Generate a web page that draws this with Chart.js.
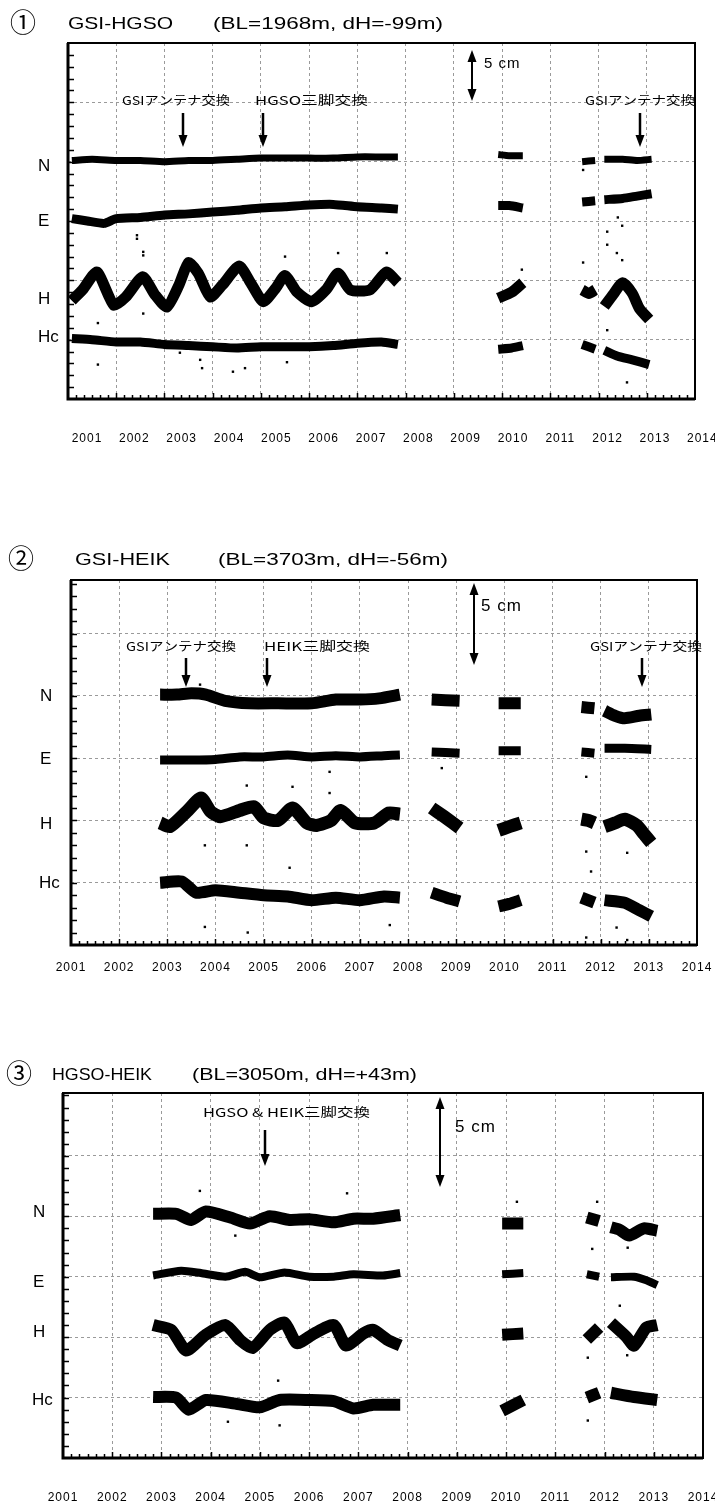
<!DOCTYPE html>
<html>
<head>
<meta charset="utf-8">
<script src="https://cdn.jsdelivr.net/npm/chart.js@4.4.0/dist/chart.umd.min.js"></script>
<style>
  body { margin: 0; background: #fff; width: 715px; height: 1508px; position: relative; overflow: hidden; }
  canvas { position: absolute; left: 0; }
</style>
</head>
<body>
<canvas id="c1" width="715" height="480" style="top:0px"></canvas>
<canvas id="c2" width="715" height="530" style="top:480px"></canvas>
<canvas id="c3" width="715" height="498" style="top:1010px"></canvas>
<script>
// x axis: years, y axis: cm (offset per component, 5 cm per grid line)
const years = [2001, 2002, 2003, 2004, 2005, 2006, 2007, 2008, 2009, 2010, 2011, 2012, 2013, 2014];
const components = ['N', 'E', 'H', 'Hc'];

// ① GSI-HGSO  [year, cm], null = data gap
const p1N = [[2001.08,20.1],[2001.5,20.2],[2002,20.1],[2002.5,20.1],[2003,20.0],[2003.5,20.1],[2004,20.1],[2004.5,20.2],[2005,20.3],[2005.5,20.3],[2006,20.3],[2006.5,20.3],[2007,20.4],[2007.5,20.4],[2007.84,20.4],null,
  [2009.92,20.6],[2010.15,20.5],[2010.43,20.5],null,[2011.66,20.0],[2011.93,20.1],null,[2012.12,20.2],[2012.5,20.2],[2012.8,20.1],[2013.1,20.2]];
const p1E = [[2001.08,15.2],[2001.4,15.0],[2001.75,14.8],[2002,15.2],[2002.5,15.3],[2003,15.5],[2003.5,15.6],[2004,15.75],[2004.5,15.9],[2005,16.1],[2005.5,16.2],[2006,16.35],[2006.5,16.4],[2007,16.2],[2007.5,16.1],[2007.84,16.0],null,
  [2009.92,16.3],[2010.15,16.3],[2010.43,16.1],null,[2011.66,16.6],[2011.93,16.7],null,[2012.12,16.8],[2012.5,16.9],[2012.8,17.1],[2013.1,17.3]];
const p1H = [[2001.08,8.3],[2001.3,9.2],[2001.6,10.7],[2001.95,7.9],[2002.2,8.6],[2002.55,10.3],[2002.8,8.8],[2003.05,7.75],[2003.3,9.6],[2003.5,11.5],[2003.7,10.6],[2003.95,8.6],[2004.2,9.6],[2004.55,11.2],[2004.8,9.7],[2005.05,8.2],[2005.3,9.3],[2005.5,10.4],[2005.75,9.0],[2006.05,8.2],[2006.35,9.2],[2006.6,10.6],[2006.85,9.2],[2007.26,9.2],[2007.6,10.7],[2007.84,9.8],null,
  [2009.92,8.5],[2010.2,9.0],[2010.43,9.8],null,[2011.66,9.2],[2011.8,8.9],[2011.93,9.2],null,[2012.12,7.8],[2012.3,8.8],[2012.5,9.8],[2012.7,8.9],[2012.85,7.6],[2013.05,6.7]];
const p1Hc = [[2001.08,5.1],[2001.5,5.0],[2002,4.8],[2002.5,4.8],[2003,4.6],[2003.5,4.5],[2004,4.4],[2004.5,4.3],[2005,4.4],[2005.5,4.4],[2006,4.4],[2006.5,4.5],[2007,4.7],[2007.5,4.8],[2007.84,4.6],null,
  [2009.92,4.2],[2010.2,4.3],[2010.43,4.5],null,[2011.66,4.6],[2011.93,4.2],null,[2012.12,4.1],[2012.4,3.6],[2012.7,3.3],[2013.05,2.9]];
const p1Out = [[2002.56,12.4],[2002.56,12.1],[2002.43,13.8],[2002.43,13.5],[2001.62,6.4],[2001.62,2.9],[2002.56,7.2],[2003.78,2.6],[2004.42,2.3],[2004.67,2.6],[2005.54,3.1],[2005.5,12.0],[2006.6,12.3],
  [2003.32,3.9],[2003.74,3.3],[2007.61,12.3],[2010.41,10.9],[2012.18,14.1],[2012.18,13.0],[2012.38,12.3],[2012.49,11.7],[2012.4,15.3],[2012.49,14.6],[2012.59,1.4],[2012.18,5.8],[2011.68,11.5],[2011.68,19.3]];

// ② GSI-HEIK
const p2N = [[2002.85,20.1],[2003.2,20.1],[2003.5,20.2],[2003.8,20.1],[2004.2,19.6],[2004.7,19.4],[2005.3,19.4],[2006,19.4],[2006.5,19.7],[2007,19.7],[2007.4,19.8],[2007.83,20.1],null,
  [2008.49,19.7],[2009.07,19.6],null,[2009.88,19.4],[2010.34,19.4],null,[2011.6,19.1],[2011.87,19.0],null,[2012.08,18.8],[2012.3,18.4],[2012.5,18.2],[2012.8,18.4],[2013.05,18.5]];
const p2E = [[2002.85,14.85],[2003.5,14.85],[2004,14.9],[2004.5,15.1],[2005,15.1],[2005.5,15.25],[2006,15.1],[2006.5,15.2],[2007,15.1],[2007.5,15.2],[2007.83,15.25],null,
  [2008.49,15.5],[2009.07,15.4],null,[2009.88,15.6],[2010.34,15.6],null,[2011.6,15.5],[2011.87,15.4],null,[2012.08,15.8],[2012.5,15.8],[2013.05,15.7]];
const p2H = [[2002.85,9.8],[2003.05,9.5],[2003.4,10.7],[2003.7,11.8],[2003.9,10.7],[2004.1,10.3],[2004.5,10.8],[2004.8,11.1],[2005.0,10.2],[2005.3,10.0],[2005.6,11.0],[2005.9,9.8],[2006.1,9.6],[2006.4,10.0],[2006.6,10.8],[2006.9,9.8],[2007.3,9.8],[2007.6,10.6],[2007.83,10.5],null,
  [2008.49,11.0],[2008.75,10.3],[2009.07,9.4],null,[2009.88,9.2],[2010.1,9.5],[2010.34,9.8],null,[2011.6,10.1],[2011.75,10.0],[2011.87,9.8],null,[2012.08,9.5],[2012.3,9.8],[2012.5,10.1],[2012.75,9.6],[2012.9,8.9],[2013.05,8.2]];
const p2Hc = [[2002.85,5.0],[2003.3,5.1],[2003.6,4.2],[2004,4.4],[2004.5,4.2],[2005,4.0],[2005.5,3.9],[2006,3.6],[2006.5,3.8],[2007,3.6],[2007.5,3.9],[2007.83,3.8],null,
  [2008.49,4.2],[2008.8,3.8],[2009.07,3.5],null,[2009.88,3.1],[2010.1,3.3],[2010.34,3.6],null,[2011.6,3.8],[2011.87,3.4],null,[2012.08,3.6],[2012.5,3.4],[2012.8,2.8],[2013.05,2.3]];
const p2Out = [[2003.78,8.0],[2003.78,1.45],[2004.67,1.0],[2004.65,8.0],[2005.54,6.2],[2005.6,12.7],[2006.37,13.9],[2006.37,12.2],[2004.65,12.8],[2003.68,20.9],
  [2007.62,1.6],[2008.7,14.2],[2011.7,13.5],[2011.7,7.5],[2011.8,5.9],[2011.7,0.6],[2012.55,0.4],[2012.55,7.4],[2012.33,1.4]];

// ③ HGSO-HEIK
const p3N = [[2002.83,20.2],[2003.3,20.2],[2003.6,19.7],[2003.9,20.4],[2004.4,19.9],[2004.8,19.4],[2005.2,20.0],[2005.6,19.7],[2006,19.75],[2006.5,19.5],[2006.9,19.8],[2007.3,19.8],[2007.85,20.1],null,
  [2009.92,19.4],[2010.35,19.4],null,[2011.64,19.9],[2011.89,19.6],null,[2012.13,19.1],[2012.3,18.9],[2012.5,18.4],[2012.8,19.0],[2013.07,18.8]];
const p3E = [[2002.83,15.1],[2003.4,15.5],[2003.8,15.3],[2004.3,15.0],[2004.7,15.4],[2005,14.95],[2005.5,15.35],[2006,15.0],[2006.5,15.0],[2006.9,15.2],[2007.5,15.1],[2007.85,15.3],null,
  [2009.92,15.2],[2010.35,15.3],null,[2011.64,15.2],[2011.89,15.0],null,[2012.13,14.95],[2012.6,15.0],[2012.85,14.7],[2013.07,14.3]];
const p3H = [[2002.83,11.0],[2003.2,10.6],[2003.5,8.9],[2003.9,10.2],[2004.3,11.0],[2004.6,9.75],[2004.85,9.1],[2005.2,10.6],[2005.5,11.2],[2005.75,9.5],[2006.1,10.3],[2006.5,11.0],[2006.75,9.3],[2007.1,10.3],[2007.3,10.6],[2007.6,9.75],[2007.85,9.3],null,
  [2009.92,10.2],[2010.35,10.3],null,[2011.64,9.8],[2011.89,10.8],null,[2012.13,11.2],[2012.45,10.0],[2012.6,9.3],[2012.85,10.8],[2013.07,11.0]];
const p3Hc = [[2002.83,5.05],[2003.3,5.0],[2003.55,4.0],[2003.9,4.8],[2004.5,4.5],[2005,4.2],[2005.4,4.8],[2006,4.8],[2006.5,4.7],[2006.9,4.1],[2007.3,4.4],[2007.85,4.4],null,
  [2009.92,3.9],[2010.35,4.8],null,[2011.64,5.0],[2011.89,5.4],null,[2012.13,5.4],[2012.6,5.05],[2013.07,4.8]];
const p3Out = [[2003.78,22.1],[2004.5,18.4],[2005.4,2.7],[2005.37,6.4],[2004.35,3.0],[2006.77,21.9],[2010.22,21.2],[2011.85,21.2],[2011.75,17.3],[2011.66,8.3],[2011.66,3.1],[2012.31,12.6],[2012.47,17.4],[2012.46,8.5]];

function toXY(arr) {
  let last = 2001;
  return arr.map(p => {
    if (p === null) return { x: last, y: null };
    last = p[0];
    return { x: p[0], y: p[1] };
  });
}

function buildDatasets(series, widths, outliers) {
  const ds = series.map((s, i) => ({
    label: components[i],
    data: toXY(s),
    showLine: true,
    spanGaps: false,
    borderColor: '#000',
    borderWidth: widths[i],
    borderCapStyle: 'butt',
    borderJoinStyle: 'round',
    pointRadius: 0,
    tension: 0.2
  }));
  ds.push({
    label: 'out',
    data: toXY(outliers),
    showLine: false,
    pointStyle: 'rect',
    pointRadius: 1.7,
    backgroundColor: '#000',
    borderWidth: 0
  });
  return ds;
}

function fitText(ctx, text, x, y, w) {
  const m = ctx.measureText(text).width;
  ctx.save();
  ctx.translate(x, y);
  ctx.scale(w / m, 1);
  ctx.fillText(text, 0, 0);
  ctx.restore();
}

function arrowHead(ctx, x, y, dir, hw, hl) {
  ctx.beginPath();
  ctx.moveTo(x, y);
  ctx.lineTo(x - hw, y - dir * hl);
  ctx.lineTo(x + hw, y - dir * hl);
  ctx.closePath();
  ctx.fill();
}

// frame, minor ticks, labels and notes
const decor = {
  id: 'decor',
  afterDraw(chart, args, o) {
    const { ctx, chartArea: a } = chart;
    const xs = chart.scales.x, ys = chart.scales.y;
    ctx.save();
    ctx.strokeStyle = '#000';
    ctx.fillStyle = '#000';

    // minor ticks on left axis (1 cm)
    ctx.lineWidth = 1.5;
    ctx.beginPath();
    for (let v = 1; v < ys.max; v++) {
      const py = Math.round(ys.getPixelForValue(v)) + 0.5;
      ctx.moveTo(a.left, py);
      ctx.lineTo(a.left + 6, py);
    }
    // bottom axis ticks (2 months)
    for (let k = 1; k < (xs.max - xs.min) * 6; k++) {
      const px = Math.round(xs.getPixelForValue(xs.min + k / 6)) + 0.5;
      ctx.moveTo(px, a.bottom);
      ctx.lineTo(px, a.bottom - (k % 6 === 0 ? 6 : 4));
    }
    ctx.stroke();

    // frame
    ctx.lineWidth = 2;
    ctx.strokeRect(a.left, a.top, a.right - a.left, a.bottom - a.top);
    ctx.lineWidth = 3;
    ctx.beginPath();
    ctx.moveTo(a.left, a.top);
    ctx.lineTo(a.left, a.bottom);
    ctx.lineTo(a.right, a.bottom);
    ctx.stroke();

    // year labels
    ctx.font = '12px "Liberation Sans", Arial, sans-serif';
    ctx.letterSpacing = '1px';
    ctx.textAlign = 'center';
    ctx.textBaseline = 'middle';
    years.forEach(yr => {
      ctx.fillText(String(yr), xs.getPixelForValue(yr) + o.yearOff(yr), o.yearY);
    });
    ctx.letterSpacing = '0px';

    // component labels
    ctx.textAlign = 'left';
    ctx.font = '17px "Liberation Sans", Arial, sans-serif';
    o.comp.forEach((p, i) => ctx.fillText(components[i], p[0], p[1]));

    // title
    ctx.font = '26px "Noto Sans CJK JP", sans-serif';
    ctx.fillText(o.title[0], o.title[1], o.title[2]);
    ctx.font = '17px "Liberation Sans", Arial, sans-serif';
    fitText(ctx, o.title[3], o.title[4], o.title[2] + 2, o.title[5]);
    fitText(ctx, o.title[6], o.title[7], o.title[2] + 2, o.title[8]);

    // notes
    ctx.font = '12px "Noto Sans CJK JP", sans-serif';
    o.notes.forEach(n => fitText(ctx, n[0], n[1], n[2], n[3]));

    // down arrows
    ctx.lineWidth = 2.5;
    o.arrows.forEach(([x, y1, y2]) => {
      ctx.beginPath();
      ctx.moveTo(x, y1);
      ctx.lineTo(x, y2 - 8);
      ctx.stroke();
      arrowHead(ctx, x, y2, 1, 4.5, 12);
    });

    // 5 cm scale
    const [sx, sy1, sy2, tx, ty, fs] = o.scale;
    ctx.lineWidth = 2;
    ctx.beginPath();
    ctx.moveTo(sx, sy1 + 8);
    ctx.lineTo(sx, sy2 - 8);
    ctx.stroke();
    arrowHead(ctx, sx, sy1, -1, 4.5, 12);
    arrowHead(ctx, sx, sy2, 1, 4.5, 12);
    ctx.font = fs + 'px "Liberation Sans", Arial, sans-serif';
    ctx.letterSpacing = '1px';
    ctx.fillText('5 cm', tx, ty);
    ctx.letterSpacing = '0px';
    ctx.restore();
  }
};

function makeChart(id, datasets, ymax, padding, deco) {
  return new Chart(document.getElementById(id), {
    type: 'scatter',
    data: { datasets: datasets },
    options: {
      responsive: false,
      animation: false,
      events: [],
      layout: { padding: padding },
      plugins: { legend: { display: false }, tooltip: { enabled: false }, decor: deco },
      scales: {
        x: {
          type: 'linear', min: 2001, max: 2014,
          ticks: { display: false, stepSize: 1 },
          grid: { color: '#9a9a9a', lineWidth: 1, drawTicks: false },
          border: { display: false, dash: [3, 3] }
        },
        y: {
          type: 'linear', min: 0, max: ymax,
          ticks: { display: false, stepSize: 5 },
          grid: { color: '#9a9a9a', lineWidth: 1, drawTicks: false },
          border: { display: false, dash: [3, 3] }
        }
      }
    },
    plugins: [decor]
  });
}

makeChart('c1', buildDatasets([p1N, p1E, p1H, p1Hc], [7, 9, 11, 9], p1Out), 30,
  { left: 68, right: 20, top: 43, bottom: 81 },
  {
    yearY: 439, yearOff: yr => 19 - (yr - 2001) * 0.9,
    comp: [[38, 166], [38, 221], [38, 299], [38, 337]],
    title: ['①', 10, 22, 'GSI-HGSO', 68, 105, '(BL=1968m, dH=-99m)', 213, 230],
    notes: [['GSIアンテナ交換', 122, 100, 108], ['HGSO三脚交換', 255, 100, 113], ['GSIアンテナ交換', 585, 100, 110]],
    arrows: [[183, 113, 147], [263, 113, 147], [640, 113, 147]],
    scale: [472, 50, 101, 484, 64, 15]
  });

makeChart('c2', buildDatasets([p2N, p2E, p2H, p2Hc], [12, 9, 13, 12], p2Out), 29.3,
  { left: 71, right: 18, top: 100, bottom: 65 },
  {
    yearY: 488, yearOff: yr => 0,
    comp: [[40, 216], [40, 279], [40, 344], [39, 403]],
    title: ['②', 8, 78, 'GSI-HEIK', 75, 95, '(BL=3703m, dH=-56m)', 218, 230],
    notes: [['GSIアンテナ交換', 126, 166, 110], ['HEIK三脚交換', 264, 166, 106], ['GSIアンテナ交換', 590, 166, 112]],
    arrows: [[186, 178, 207], [267, 178, 207], [642, 178, 207]],
    scale: [474, 103, 185, 481, 126, 17]
  });

makeChart('c3', buildDatasets([p3N, p3E, p3H, p3Hc], [12, 8, 12, 12], p3Out), 30.2,
  { left: 63, right: 12, top: 83, bottom: 50 },
  {
    yearY: 488, yearOff: yr => 0,
    comp: [[33, 202], [33, 272], [33, 322], [32, 390]],
    title: ['③', 6, 63, 'HGSO-HEIK', 52, 100, '(BL=3050m, dH=+43m)', 192, 225],
    notes: [['HGSO & HEIK三脚交換', 203, 102, 167]],
    arrows: [[265, 120, 156]],
    scale: [440, 87, 177, 455, 117, 17]
  });
</script>
</body>
</html>
